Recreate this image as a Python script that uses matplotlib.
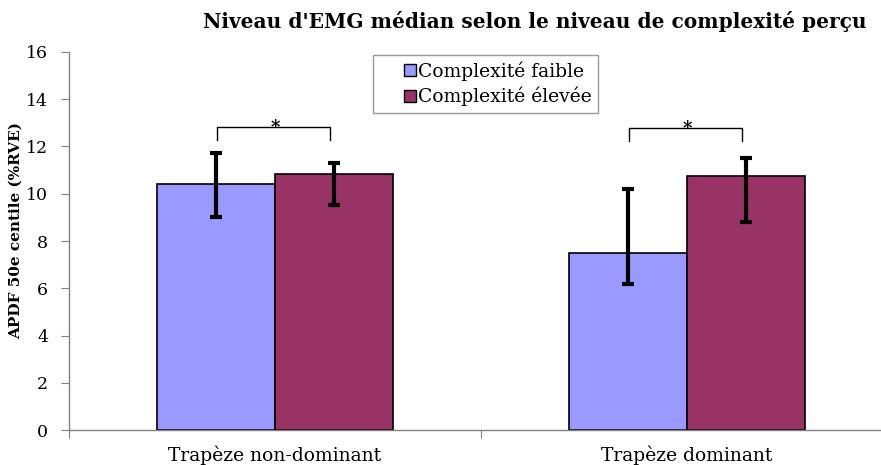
import numpy as np
import matplotlib
matplotlib.use('Agg')
import matplotlib.pyplot as plt
from matplotlib.lines import Line2D

# muscle groups and the two perceived-complexity conditions
categories = ['Trapèze non-dominant', 'Trapèze dominant']
series_names = ['Complexité faible', 'Complexité élevée']
colors = ['#9999ff', '#993366']

# median EMG level (APDF 50th percentile, %RVE)
low_vals = [10.41, 7.51]
high_vals = [10.84, 10.77]
# error bar extents (lower, upper) around each bar
low_err_lo = [1.38, 1.34]
low_err_hi = [1.33, 2.69]
high_err_lo = [1.30, 1.95]
high_err_hi = [0.45, 0.74]
# significance bracket height per group
bracket_y = [12.84, 12.80]

plt.rcParams['font.family'] = ['DejaVu Serif']

fig = plt.figure(figsize=(8.81, 4.65), dpi=100)
ax = fig.add_axes([69 / 881, 35 / 465, 824 / 881, 378 / 465])

x = np.arange(len(categories)) + 0.5
w = 0.286
ax.bar(x - w / 2, low_vals, w, color=colors[0], edgecolor='black', linewidth=1.2, zorder=2)
ax.bar(x + w / 2, high_vals, w, color=colors[1], edgecolor='black', linewidth=1.2, zorder=2)
ax.errorbar(x - w / 2, low_vals, yerr=[low_err_lo, low_err_hi], fmt='none',
            ecolor='black', elinewidth=3, capsize=4, capthick=3, zorder=3)
ax.errorbar(x + w / 2, high_vals, yerr=[high_err_lo, high_err_hi], fmt='none',
            ecolor='black', elinewidth=3, capsize=4, capthick=3, zorder=3)

# brackets with stars between the two conditions
for xc, yb in zip(x, bracket_y):
    xl, xr = xc - w / 2 + 0.003, xc + w / 2 - 0.01
    ax.plot([xl, xl, xr, xr], [yb - 0.55, yb, yb, yb - 0.55], color='black',
            linewidth=1.0, zorder=3)
    ax.text(xc, yb - 0.05, '*', ha='center', va='center', fontsize=13,
            fontweight='bold')

ax.set_xlim(0, 2)
ax.set_ylim(0, 16)
ax.set_yticks(np.arange(0, 17, 2))
ax.set_xticks([0, 1, 2])
ax.set_xticklabels([])
ax.set_xticks(x, minor=True)
ax.set_xticklabels(categories, minor=True, fontsize=13.5)
ax.tick_params(axis='x', which='minor', length=0, pad=11)
ax.tick_params(axis='x', which='major', length=6, color='#808080', direction='out')
ax.tick_params(axis='y', length=6, color='#808080', direction='out', labelsize=12.5, pad=9)

for side in ['top', 'right']:
    ax.spines[side].set_visible(False)
for side in ['left', 'bottom']:
    ax.spines[side].set_color('#808080')
    ax.spines[side].set_linewidth(1.0)

ax.set_ylabel('APDF 50e centile (%RVE)', fontsize=11, fontweight='bold')
ax.yaxis.set_label_coords(-0.056, 0.529)

fig.text(535 / 881, 1 - 22 / 465, "Niveau d'EMG médian selon le niveau de complexité perçu",
         ha='center', va='center', fontsize=14.5, fontweight='bold')

# square swatches sitting right against the legend text
handles = [Line2D([], [], linestyle='none', marker='s', markersize=8.5,
                  markerfacecolor=c, markeredgecolor='black', markeredgewidth=1.0)
           for c in colors]
leg = ax.legend(handles, series_names, loc='upper left',
                bbox_to_anchor=((373 - 69) / 824, 1 - 3 / 378),
                fontsize=13.5, frameon=True, fancybox=False, edgecolor='#808080',
                handlelength=3.3, handletextpad=-1.25,
                borderpad=0.35, labelspacing=0.3, borderaxespad=0)
leg.get_frame().set_linewidth(1.0)

fig.savefig('out.png', dpi=100)
